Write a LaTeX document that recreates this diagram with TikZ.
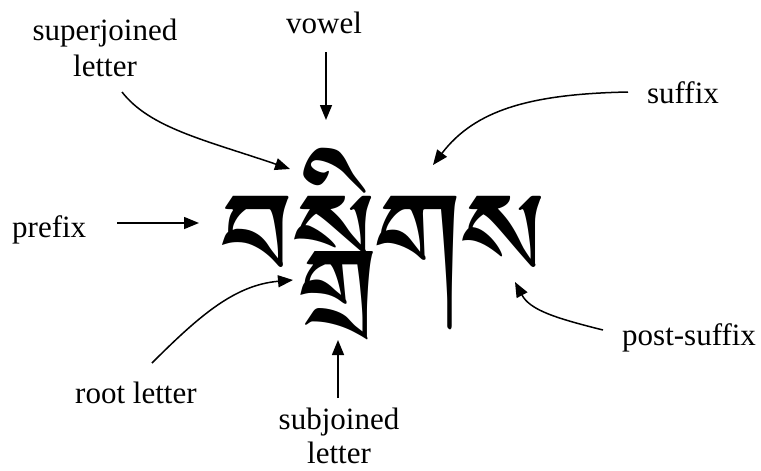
\documentclass[tikz,border=0pt]{standalone}
\usepackage{fontspec}
\setmainfont{Liberation Serif}
\newfontfamily\lblfont{Liberation Serif}
\newfontfamily\tibfont[Script=Tibetan]{Jomolhari}
\usetikzlibrary{arrows.meta}
\begin{document}
\begin{tikzpicture}[x=1pt,y=-1pt,
  lbl/.style={font=\lblfont\fontsize{31}{36}\selectfont, inner sep=0pt, align=center},
  arr/.style={line width=1.5pt, -{Triangle[length=15pt,width=12pt]}}]
\useasboundingbox (0,0) rectangle (761,471);
\node[inner sep=0pt, anchor=base west, font=\tibfont\fontsize{152}{160}\selectfont] (tib) at (221,308) {བསྒྲིགས};
\node[lbl, anchor=base] (sup) at (105,76) {superjoined\\letter};
\node[lbl, anchor=base] (vow) at (324,34) {vowel};
\node[lbl, anchor=base] (suf) at (683,103) {suffix};
\node[lbl, anchor=base west] (pre) at (12,237) {prefix};
\node[lbl, anchor=base west] (psuf) at (622,345) {post-suffix};
\node[lbl, anchor=base west] (root) at (75,403) {root letter};
\node[lbl, anchor=base, font=\lblfont\fontsize{31}{34}\selectfont] (sub) at (339,463) {subjoined\\letter};
\coordinate (vowA) at (326,52);
\coordinate (vowT) at (326,120);
\draw[arr] (vowA) -- (vowT);
\coordinate (supA) at (122,92);
\coordinate (supT) at (290,169);
\draw[arr] (supA) .. controls (150,128) and (205,140) .. (supT);
\coordinate (sufA) at (628,92);
\coordinate (sufT) at (433,165);
\draw[arr] (sufA) .. controls (530,94) and (475,110) .. (sufT);
\coordinate (preA) at (117,223);
\coordinate (preT) at (199,223);
\draw[arr] (preA) -- (preT);
\coordinate (rootA) at (152,363);
\coordinate (rootT) at (293,280);
\draw[arr] (rootA) .. controls (200,315) and (235,285) .. (rootT);
\coordinate (subA) at (338,398);
\coordinate (subT) at (338,340);
\draw[arr] (subA) -- (subT);
\coordinate (psA) at (603,330);
\coordinate (psT) at (515,282);
\draw[arr] (psA) .. controls (555,318) and (530,310) .. (psT);
\end{tikzpicture}
\end{document}
